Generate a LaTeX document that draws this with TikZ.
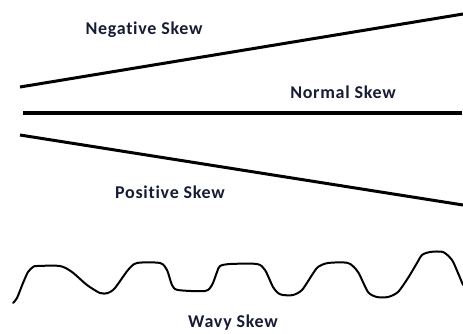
\documentclass[tikz,border=0pt]{standalone}
\usepackage{fontspec}
\setmainfont{Carlito}[Ligatures=NoCommon]
\newfontfamily\skewfont{Carlito}[Ligatures=NoCommon, LetterSpace=4]
\usepackage{xcolor}
\usepackage{tikz}
\definecolor{skewnavy}{RGB}{22,28,52}

\begin{document}
\begin{tikzpicture}[
				x=1pt, y=-1pt,
				skewline/.style={line width=3pt, black},
				flatline/.style={line width=3.6pt, black},
				wave/.style={line width=2pt, black, line join=round, line cap=round},
				skewtext/.style={font=\skewfont\bfseries\fontsize{18}{20}\selectfont, text=skewnavy, inner sep=0pt}
				]
				\useasboundingbox (0,0) rectangle (463,333);
				
				\coordinate (negL) at (20,87);
				\coordinate (negR) at (463,14);
				\coordinate (normL) at (23,113);
				\coordinate (normR) at (462,113);
				\coordinate (posL) at (20,135);
				\coordinate (posR) at (463,205);
				
				\node[skewtext] (neg) at (144,30) {Negative Skew};
				\node[skewtext] (norm) at (343,92) {Normal Skew};
				\node[skewtext] (pos) at (170,192) {Positive Skew};
				\node[skewtext] (wavy) at (233,323) {Wavy Skew};
				
				\draw[skewline] (negL) -- (negR);
				\draw[flatline] (normL) -- (normR);
				\draw[skewline] (posL) -- (posR);
				
				% hand drawn wave
				\draw[wave] plot[smooth, tension=0.45] coordinates {
					(13,303) (17,298) (23,283) (28,272) (33,267) (37,266) (60,266) (72,272)
					(87,285) (100,293) (108,293) (115,288) (128,270) (137,263) (160,263)
					(167,270) (172,285) (178,290) (205,291) (212,285) (217,272) (220,266)
					(230,264) (257,264) (265,270) (273,287) (278,293) (283,295) (293,295)
					(302,290) (312,275) (318,267) (328,263) (348,263) (358,272) (368,292)
					(377,297) (388,297) (398,292) (408,278) (417,263) (422,255) (430,252)
					(443,252) (452,260) (458,273) (463,285)};
				
			\end{tikzpicture}
\end{document}
